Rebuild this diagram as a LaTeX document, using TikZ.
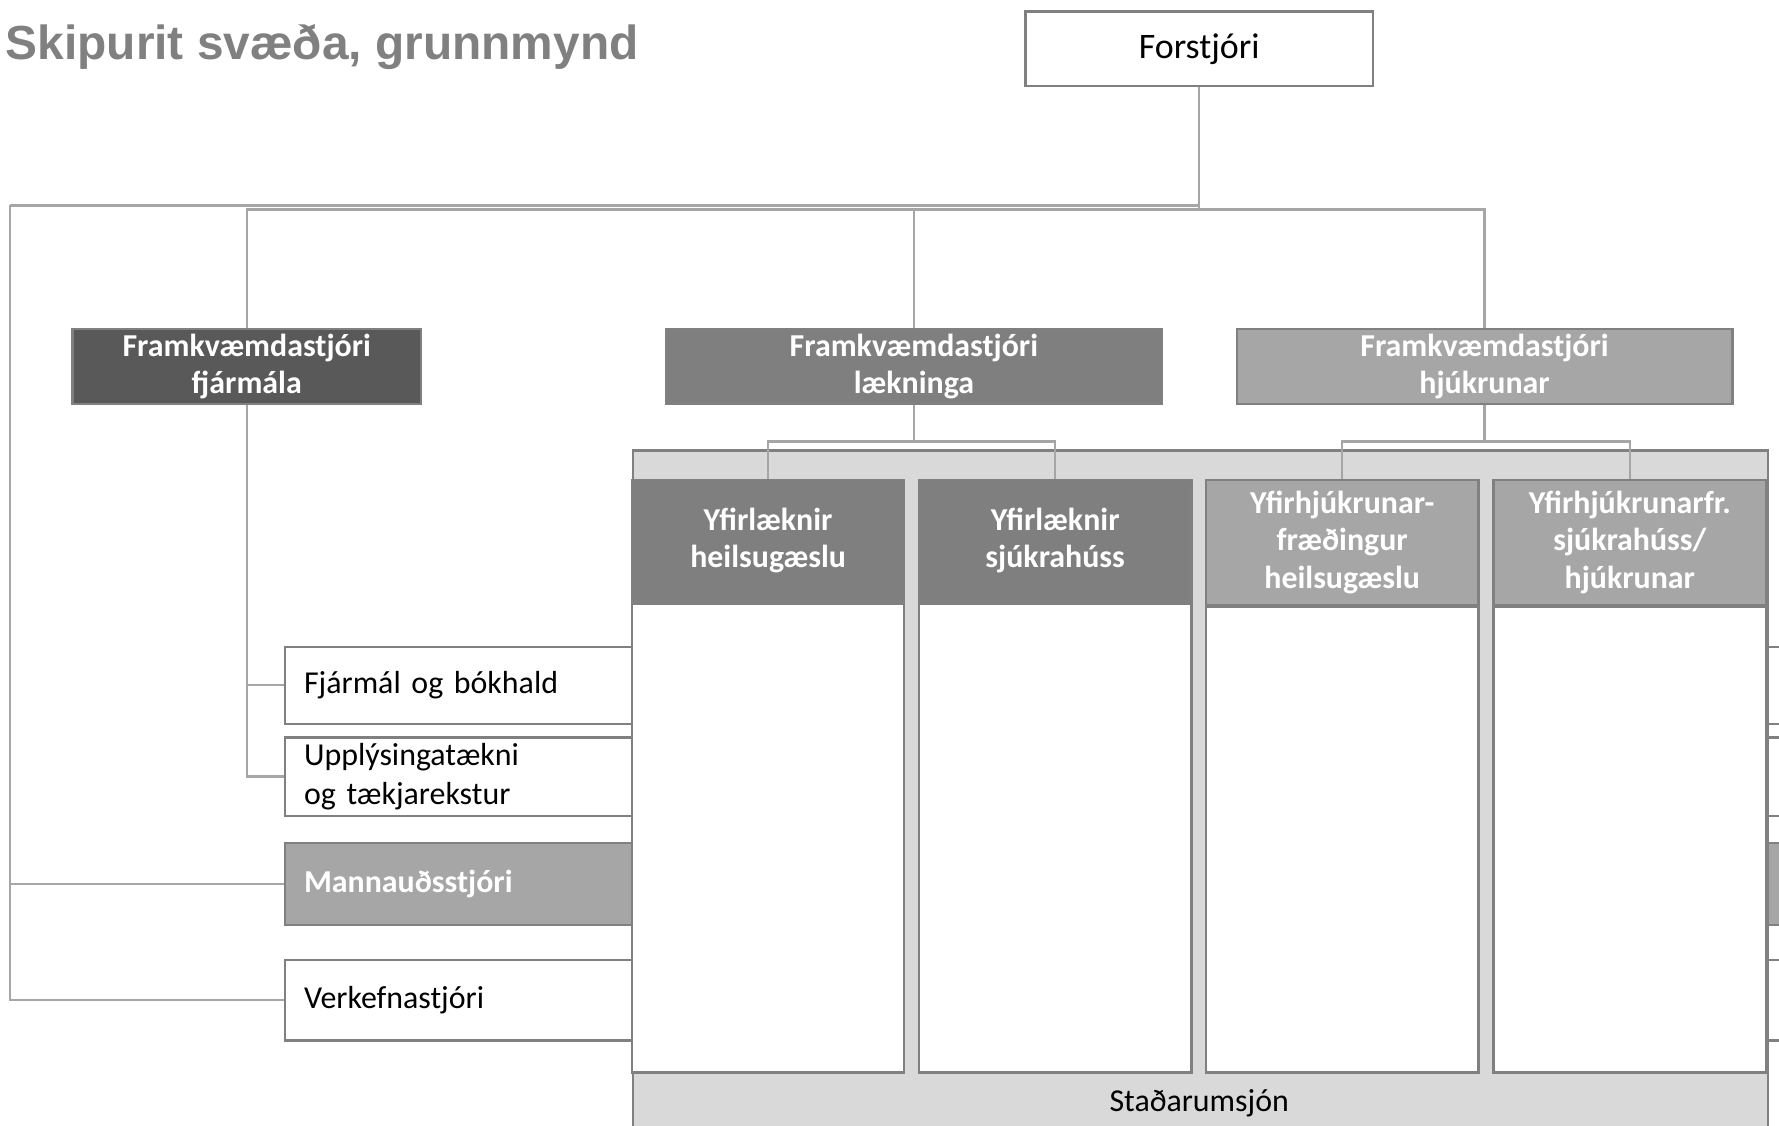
\documentclass[tikz,border=0pt]{standalone}
\usepackage{fontspec}
\setmainfont{Carlito}
\newfontfamily\titlefont{Liberation Sans}

\definecolor{darkbox}{HTML}{595959}
\definecolor{midbox}{HTML}{7F7F7F}
\definecolor{lightbox}{HTML}{A6A6A6}
\definecolor{panelgray}{HTML}{D9D9D9}
\definecolor{linegray}{HTML}{A6A6A6}
\definecolor{framegray}{HTML}{808080}

\begin{document}
\begin{tikzpicture}
	[every node/.style={draw=framegray,line width=0.6pt,inner sep=0pt,
		font=\fontsize{8}{9.4}\selectfont},
	whitebox/.style={fill=white,text=black},
	head/.style={fill=#1,text=white,align=center,
		font=\fontsize{8}{9.4}\selectfont\bfseries},
	sidebox/.style={fill=white,minimum width=13.49cm,text width=13.15cm,align=left},
	conn/.style={draw=linegray,line width=0.6pt},
	hv/.style={to path={-| (\tikztotarget)}},
	vh/.style={to path={|- (\tikztotarget)}}]
	\useasboundingbox (0,0) rectangle (15.68,-9.92);
	\clip (0,0) rectangle (15.68,-9.92);

	\node[draw=none,anchor=base west,text=framegray,
		font=\titlefont\bfseries\fontsize{12}{14}\selectfont] (title) at (0.04,-0.52) {Skipurit svæða, grunnmynd};

	\node[whitebox,minimum width=3.06cm,minimum height=0.66cm,
		font=\fontsize{9}{10}\selectfont] (boss) at (10.57,-0.43) {Forstjóri};

	\node[head=darkbox,minimum width=3.07cm,minimum height=0.66cm] (fjar) at (2.175,-3.23) {Framkvæmdastjóri\\fjármála};
	\node[head=midbox,minimum width=4.37cm,minimum height=0.66cm] (laek) at (8.055,-3.23) {Framkvæmdastjóri\\lækninga};
	\node[head=lightbox,minimum width=4.37cm,minimum height=0.66cm] (hjuk) at (13.085,-3.23) {Framkvæmdastjóri\\hjúkrunar};

	\node[sidebox,minimum height=0.68cm] (fjarmal) at (9.255,-6.04) {Fjármál og bókhald};
	\node[sidebox,minimum height=0.69cm,font=\fontsize{8}{9.6}\selectfont] (upply) at (9.255,-6.845) {Upplýsingatækni\\og tækjarekstur};
	\node[sidebox,minimum height=0.72cm,fill=lightbox,text=white,
		font=\fontsize{8}{9.4}\selectfont\bfseries] (mann) at (9.255,-7.79) {Mannauðsstjóri};
	\node[sidebox,minimum height=0.71cm] (verk) at (9.255,-8.815) {Verkefnastjóri};

	\node[fill=panelgray,minimum width=10cm,minimum height=6.2cm,anchor=north west] (panel) at (5.57,-3.96) {};
	\node[draw=none] (stad) at (10.57,-9.72) {Staðarumsjón};

	\foreach \n/\x/\hh/\shade/\txt in {
		1/6.77/1.07/midbox/{Yfirlæknir\\heilsugæslu},
		2/9.30/1.07/midbox/{Yfirlæknir\\sjúkrahúss},
		3/11.83/1.10/lightbox/{Yfirhjúkrunar-\\fræðingur\\heilsugæslu},
		4/14.365/1.10/lightbox/{Yfirhjúkrunarfr.\\sjúkrahúss/\\hjúkrunar}}
	{
		\node[head=\shade,minimum width=2.40cm,minimum height=\hh cm,anchor=north] (h\n) at (\x,-4.22) {\txt};
		\node[whitebox,minimum width=2.40cm,minimum height={(5.20-\hh)*1cm},anchor=north] (b\n) at (h\n.south) {};
	}

	\coordinate (topA) at (10.57,-1.81);
	\coordinate (leftA) at (0.09,-1.81);
	\coordinate (topB) at (10.57,-1.845);
	\coordinate (laekB) at (8.055,-3.89);
	\coordinate (hjukB) at (13.085,-3.89);

	\path
	\foreach \startNode/\endNode in {boss.south/topA,topA/leftA,boss.south/topB,laek.south/laekB,hjuk.south/hjukB}
	{
		(\startNode) edge[conn] (\endNode)
	};
	\path
	\foreach \startNode/\endNode in {topB/fjar.north,topB/laek.north,topB/hjuk.north,laekB/h1.north,laekB/h2.north,hjukB/h3.north,hjukB/h4.north}
	{
		(\startNode) edge[conn,hv] (\endNode)
	};
	\path
	\foreach \startNode/\endNode in {leftA/mann.west,leftA/verk.west,fjar.south/fjarmal.west,fjar.south/upply.west}
	{
		(\startNode) edge[conn,vh] (\endNode)
	};
\end{tikzpicture}
\end{document}
